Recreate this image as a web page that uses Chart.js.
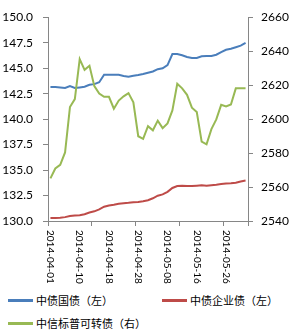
<!DOCTYPE html>
<html>
<head>
<meta charset="utf-8">
<script src="https://cdn.jsdelivr.net/npm/chart.js@4/dist/chart.umd.min.js"></script>
<style>
  html, body { margin: 0; padding: 0; background: #fff; }
  #wrap { position: relative; width: 290px; height: 333px; }
  #box { position: absolute; left: 0; top: 0; width: 290px; height: 288px; }
  #legend { position: absolute; left: 8px; top: 293px; display: grid;
            grid-template-columns: 154px auto; row-gap: 9px;
            font: 11px "Noto Sans CJK SC", sans-serif; color: #000; }
  .item { display: flex; align-items: center; height: 14px; white-space: nowrap; }
  .line { display: inline-block; width: 25px; height: 3px; margin-right: 3px; }
</style>
</head>
<body>
<div id="wrap">
  <div id="box"><canvas id="bondChart"></canvas></div>
  <div id="legend"></div>
</div>
<script>
// trading days, 2014-04-01 .. 2014-05-30
var dates = ['2014-04-01', '2014-04-02', '2014-04-03', '2014-04-04', '2014-04-08', '2014-04-09',
    '2014-04-10', '2014-04-11', '2014-04-14', '2014-04-15', '2014-04-16', '2014-04-17',
    '2014-04-18', '2014-04-21', '2014-04-22', '2014-04-23', '2014-04-24', '2014-04-25',
    '2014-04-28', '2014-04-29', '2014-04-30', '2014-05-05', '2014-05-06', '2014-05-07',
    '2014-05-08', '2014-05-09', '2014-05-12', '2014-05-13', '2014-05-14', '2014-05-15',
    '2014-05-16', '2014-05-19', '2014-05-20', '2014-05-21', '2014-05-22', '2014-05-23',
    '2014-05-26', '2014-05-27', '2014-05-28', '2014-05-29', '2014-05-30'];

var seriesNames = ['中债国债（左）', '中债企业债（左）', '中信标普可转债（右）'];

var govBond = [143.14, 143.14, 143.11, 143.05, 143.24, 143.05, 143.11, 143.18, 143.37, 143.43,
    143.62, 144.35, 144.35, 144.35, 144.35, 144.23, 144.16, 144.26, 144.32, 144.42,
    144.54, 144.67, 144.90, 144.99, 145.30, 146.38, 146.38, 146.26, 146.10, 146.00,
    146.00, 146.16, 146.19, 146.19, 146.32, 146.57, 146.80, 146.90, 147.05, 147.21, 147.47];

var corpBond = [130.29, 130.29, 130.32, 130.38, 130.48, 130.54, 130.57, 130.67, 130.83, 130.95,
    131.14, 131.40, 131.52, 131.59, 131.69, 131.75, 131.78, 131.85, 131.87, 131.94,
    132.04, 132.23, 132.48, 132.61, 132.86, 133.24, 133.43, 133.47, 133.43, 133.43,
    133.47, 133.50, 133.47, 133.52, 133.56, 133.62, 133.69, 133.71, 133.75, 133.88, 133.97];

var convBond = [2565.1, 2570.9, 2573.1, 2580.4, 2607.1, 2611.8, 2635.3, 2629.0, 2631.4, 2619.4,
    2615.1, 2613.1, 2613.1, 2606.1, 2610.9, 2613.4, 2615.3, 2609.9, 2589.9, 2588.4,
    2595.8, 2593.4, 2599.1, 2594.7, 2597.5, 2605.1, 2620.8, 2618.1, 2614.3, 2606.7,
    2604.2, 2586.7, 2585.1, 2594.1, 2599.8, 2608.4, 2607.4, 2608.6, 2618.1, 2618.1, 2618.1];

var leftTicks = { min: 130, max: 150, step: 2.5 };
var rightTicks = { min: 2540, max: 2660, step: 20 };

var colors = ['#4a7ebb', '#be4b48', '#98b954'];
var axisGray = '#868686';
var numFont = { family: 'Lato', size: 12 };

// x labels in the reference read top-to-bottom, so draw them ourselves
var xLabelPlugin = {
    id: 'xLabels',
    afterDraw: function (chart) {
        var ctx = chart.ctx;
        var scale = chart.scales.x;
        ctx.save();
        ctx.font = '10px Lato';
        ctx.fillStyle = '#000';
        ctx.textAlign = 'left';
        ctx.textBaseline = 'middle';
        for (var i = 0; i < dates.length; i += 6) {
            var x = scale.getPixelForValue(i);
            ctx.save();
            ctx.translate(x, scale.top + 9);
            ctx.rotate(Math.PI / 2);
            ctx.fillText(dates[i], 0, 0);
            ctx.restore();
        }
        ctx.restore();
    }
};

var chart = new Chart(document.getElementById('bondChart').getContext('2d'), {
    type: 'line',
    data: {
        labels: dates,
        datasets: [
            { label: seriesNames[0], data: govBond, yAxisID: 'y', borderColor: colors[0], order: 1 },
            { label: seriesNames[1], data: corpBond, yAxisID: 'y', borderColor: colors[1], order: 1 },
            { label: seriesNames[2], data: convBond, yAxisID: 'y1', borderColor: colors[2], order: 0 }
        ]
    },
    options: {
        responsive: true,
        maintainAspectRatio: false,
        animation: false,
        layout: { padding: { top: 11, bottom: 0, left: 0, right: 0 } },
        elements: {
            line: { borderWidth: 2, tension: 0, fill: false },
            point: { radius: 0 }
        },
        plugins: {
            legend: { display: false },
            tooltip: { enabled: false }
        },
        scales: {
            x: {
                offset: true,
                grid: {
                    offset: true,
                    drawOnChartArea: false,
                    tickLength: 5,
                    color: function (c) {
                        return (c.index === undefined || c.index % 9 === 0) ? axisGray : 'rgba(0,0,0,0)';
                    }
                },
                border: { color: axisGray },
                ticks: { display: false, autoSkip: false },
                afterFit: function (s) { s.height = 67; }
            },
            y: {
                position: 'left',
                min: leftTicks.min,
                max: leftTicks.max,
                grid: { drawOnChartArea: false, tickLength: 5, color: axisGray },
                border: { color: axisGray },
                ticks: {
                    stepSize: leftTicks.step,
                    padding: 10,
                    color: '#000',
                    font: numFont,
                    callback: function (v) { return v.toFixed(1); }
                },
                afterFit: function (s) { s.width = 48; }
            },
            y1: {
                position: 'right',
                min: rightTicks.min,
                max: rightTicks.max,
                grid: { drawOnChartArea: false, tickLength: 5, color: axisGray },
                border: { color: axisGray },
                ticks: {
                    stepSize: rightTicks.step,
                    padding: 8,
                    color: '#000',
                    font: numFont,
                    callback: function (v) { return String(v); }
                },
                afterFit: function (s) { s.width = 42; }
            }
        }
    },
    plugins: [xLabelPlugin]
});

// legend laid out like the Excel original (two columns, wraps to second row)
var legend = document.getElementById('legend');
chart.data.datasets.forEach(function (ds) {
    var item = document.createElement('div');
    item.className = 'item';
    item.innerHTML = '<span class="line" style="background:' + ds.borderColor + '"></span>' + ds.label;
    legend.appendChild(item);
});
</script>
</body>
</html>
